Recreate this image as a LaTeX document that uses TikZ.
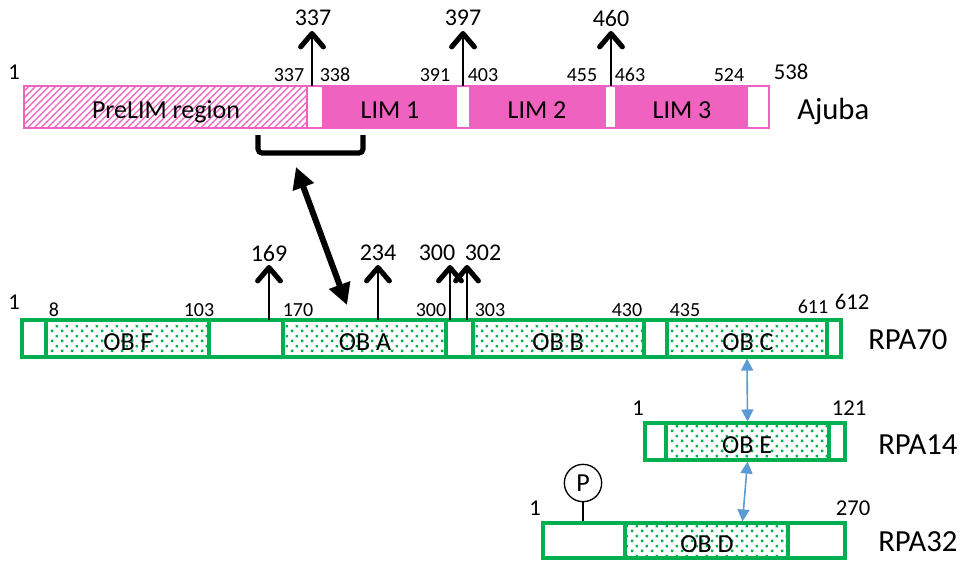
\documentclass[tikz,border=0pt]{standalone}
\usepackage{fontspec}
\setmainfont{Carlito}
\usetikzlibrary{arrows.meta,patterns.meta,fit}
\definecolor{ajpink}{RGB}{240,98,192}
\definecolor{rpagreen}{RGB}{0,176,80}
\definecolor{bluearr}{RGB}{91,155,213}
\tikzdeclarepattern{name=gdots, type=uncolored,
  bounding box={(0pt,0pt) and (7.5pt,7.5pt)}, tile size={(7.5pt,7.5pt)},
  code={\fill (0.8pt,0.8pt) rectangle (2.7pt,2.7pt); \fill (4.55pt,4.55pt) rectangle (6.45pt,6.45pt);}}
\tikzdeclarepattern{name=phatch, type=uncolored,
  bounding box={(-0.5pt,-0.5pt) and (5.5pt,5.5pt)}, tile size={(5pt,5pt)},
  code={\draw[line width=0.9pt] (-0.5pt,-0.5pt) -- (5.5pt,5.5pt);}}
\begin{document}
\begin{tikzpicture}[x=0.75pt,y=-0.75pt,
  num/.style={font=\fontsize{15}{15}\selectfont, inner sep=0pt},
  endnum/.style={font=\fontsize{17}{17}\selectfont, inner sep=0pt},
  toplab/.style={font=\fontsize{18}{18}\selectfont, inner sep=0pt},
  prot/.style={font=\fontsize{23}{23}\selectfont, inner sep=0pt, anchor=west},
  domtxt/.style={font=\fontsize{19.5}{19.5}\selectfont, inner sep=0pt, anchor=base},
  bar/.style={inner sep=0pt, line width=#1},
  ajbar/.style={bar=1.6pt, draw=ajpink, fill=white},
  hatchseg/.style={bar=1.6pt, draw=ajpink, pattern=phatch, pattern color=ajpink},
  limseg/.style={bar=1.6pt, draw=ajpink, fill=ajpink},
  rpabar/.style={bar=2.3pt, draw=rpagreen, fill=white},
  obseg/.style={bar=2.3pt, draw=rpagreen, pattern=gdots, pattern color=rpagreen},
  site/.style={line width=2pt, -{Straight Barb[length=10pt,width=17pt,line width=3.8pt,round]}},
  bracketline/.style={line width=3.8pt, rounded corners=3pt},
  bind/.style={line width=4.5pt, {Triangle[length=16pt,width=16pt]}-{Triangle[length=16pt,width=16pt]}},
  bluebind/.style={draw=bluearr, line width=1.2pt, {Triangle[length=9pt,width=9pt]}-{Triangle[length=9pt,width=9pt]}}
]
\useasboundingbox (0,0) rectangle (969,562);

% ---------------- Ajuba ----------------
\node[ajbar, fit={(24,86) (769,128)}] (ajuba) {};
\node[hatchseg, fit={(24,86) (307,128)}] (prelim) {};
\node[limseg, fit={(323,86) (456,128)}] (lim1) {};
\node[limseg, fit={(470,86) (605,128)}] (lim2) {};
\node[limseg, fit={(616,86) (747,128)}] (lim3) {};
\node[domtxt] (prelimtxt) at (166,118) {PreLIM region};
\node[domtxt] (lim1txt) at (390,118) {LIM 1};
\node[domtxt] (lim2txt) at (537,118) {LIM 2};
\node[domtxt] (lim3txt) at (682,118) {LIM 3};
\node[prot] (ajname) at (797,111) {Ajuba};

\node[endnum] (a1) at (14,72) {1};
\node[num] (a337) at (289,75) {337};
\node[num] (a338) at (335,75) {338};
\node[num] (a391) at (435,75) {391};
\node[num] (a403) at (483,75) {403};
\node[num] (a455) at (582,75) {455};
\node[num] (a463) at (630,75) {463};
\node[num] (a524) at (729,75) {524};
\node[endnum] (a538) at (791,72) {538};

\node[toplab] (t337) at (313,18) {337};
\node[toplab] (t397) at (463,18) {397};
\node[toplab] (t460) at (611,18) {460};
\coordinate (s337) at (312,86); \coordinate (p337) at (312,31);
\coordinate (s397) at (463,86); \coordinate (p397) at (463,31);
\coordinate (s460) at (611,86); \coordinate (p460) at (611,31);
\draw[site] (s337) -- (p337);
\draw[site] (s397) -- (p397);
\draw[site] (s460) -- (p460);

% bracket and binding arrow
\coordinate (bra) at (258,135);
\coordinate (brb) at (258,153);
\coordinate (brc) at (363,153);
\coordinate (brd) at (363,135);
\draw[bracketline] (bra) -- (brb) -- (brc) -- (brd);
\coordinate (bindtop) at (296,167);
\coordinate (bindbot) at (347,305);
\draw[bind] (bindtop) -- (bindbot);

% ---------------- RPA70 ----------------
\node[rpabar, fit={(22,320) (841,357)}] (rpa70) {};
\node[obseg, fit={(46,320) (209,357)}] (obF) {};
\node[obseg, fit={(283,320) (446,357)}] (obA) {};
\node[obseg, fit={(473,320) (644,357)}] (obB) {};
\node[obseg, fit={(667,320) (827,357)}] (obC) {};
\node[domtxt] (obFtxt) at (128,350) {OB F};
\node[domtxt] (obAtxt) at (365,350) {OB A};
\node[domtxt] (obBtxt) at (558,350) {OB B};
\node[domtxt] (obCtxt) at (748,350) {OB C};
\node[prot] (r70name) at (868,340) {RPA70};

\node[endnum] (r1) at (14,302) {1};
\node[num] (r8) at (54,310) {8};
\node[num] (r103) at (199,310) {103};
\node[num] (r170) at (298,310) {170};
\node[num] (r300) at (431,310) {300};
\node[num] (r303) at (490,310) {303};
\node[num] (r430) at (627,310) {430};
\node[num] (r435) at (685,310) {435};
\node[num] (r611) at (813,307) {611};
\node[endnum] (r612) at (852,302) {612};

\node[toplab] (t169) at (269,253) {169};
\node[toplab] (t234) at (378,253) {234};
\node[toplab] (t300) at (437,253) {300};
\node[toplab] (t302) at (483,253) {302};
\coordinate (s169) at (269,320); \coordinate (p169) at (269,265);
\coordinate (s234) at (378,320); \coordinate (p234) at (378,265);
\coordinate (s300) at (450,320); \coordinate (p300) at (450,265);
\coordinate (s302) at (467,320); \coordinate (p302) at (467,265);
\draw[site] (s169) -- (p169);
\draw[site] (s234) -- (p234);
\draw[site] (s300) -- (p300);
\draw[site] (s302) -- (p302);

% ---------------- RPA14 ----------------
\node[rpabar, fit={(645,423) (845,460)}] (rpa14) {};
\node[obseg, fit={(666,423) (829,460)}] (obE) {};
\node[domtxt] (obEtxt) at (747,453) {OB E};
\node[prot] (r14name) at (878,445) {RPA14};
\node[endnum] (e1) at (638,408) {1};
\node[endnum] (e121) at (849,408) {121};

% ---------------- RPA32 ----------------
\node[rpabar, fit={(543,523) (845,558)}] (rpa32) {};
\node[obseg, fit={(625,523) (788,558)}] (obD) {};
\node[domtxt] (obDtxt) at (707,552) {OB D};
\node[prot] (r32name) at (878,542) {RPA32};
\node[endnum] (d1) at (535,508) {1};
\node[endnum] (d270) at (853,508) {270};

\node[draw, circle, line width=1pt, minimum size=28pt, inner sep=0pt,
      font=\fontsize{19.5}{19.5}\selectfont] (phos) at (583,483) {P};
\draw[line width=1.6pt] (phos.south) -- (phos.south |- rpa32.north);

% blue interactions
\draw[bluebind] (obC.south) -- (obE.north);
\draw[bluebind] (obE.south) -- ([xshift=27pt]obD.north);
\end{tikzpicture}
\end{document}
